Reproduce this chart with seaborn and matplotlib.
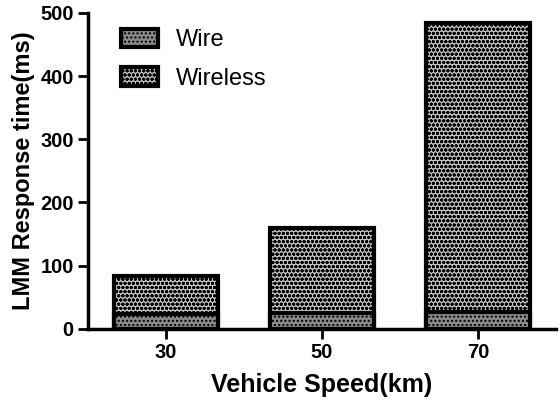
import matplotlib
matplotlib.use("Agg")
import matplotlib.pyplot as plt
import seaborn as sns
import pandas as pd
from matplotlib.patches import Patch

speeds = ["30", "50", "70"]
wire = [24, 25, 27]
wireless_top = [83, 160, 484]  # stacked total (wire + wireless)

sns.set_style("ticks")
plt.rcParams['font.family'] = ['Liberation Sans', 'DejaVu Sans']
plt.rcParams['hatch.linewidth'] = 1.0
plt.rcParams['text.color'] = 'black'
plt.rcParams['axes.labelcolor'] = 'black'
plt.rcParams['xtick.color'] = 'black'
plt.rcParams['ytick.color'] = 'black'

df = pd.DataFrame({"speed": speeds, "wire": wire, "total": wireless_top})

fig = plt.figure(figsize=(5.59, 4.04), dpi=100)
ax = fig.add_axes([0.157, 0.186, 0.838, 0.782])

sns.barplot(data=df, x="speed", y="total", ax=ax, color="#c4c4c4",
            width=0.67, edgecolor="black", linewidth=3, hatch="oooo")
sns.barplot(data=df, x="speed", y="wire", ax=ax, color="#8a8a8a",
            width=0.67, edgecolor="black", linewidth=3, hatch="....")

ax.set_xlim(-0.5, 2.5)
ax.set_ylim(0, 500)
ax.set_yticks([0, 100, 200, 300, 400, 500])
ax.set_xlabel("Vehicle Speed(km)", fontsize=18, fontweight="bold", labelpad=8)
ax.set_ylabel("LMM Response time(ms)", fontsize=17, fontweight="bold", labelpad=4)
for lab in ax.get_xticklabels() + ax.get_yticklabels():
    lab.set_fontweight("bold")
ax.tick_params(axis="both", labelsize=14.5, width=2, length=7, pad=3, color="black")
for s in ["top", "right"]:
    ax.spines[s].set_visible(False)
for s in ["left", "bottom"]:
    ax.spines[s].set_linewidth(2.5)
    ax.spines[s].set_color("black")

handles = [Patch(facecolor="#8a8a8a", edgecolor="black", linewidth=3, hatch="...."),
           Patch(facecolor="#c4c4c4", edgecolor="black", linewidth=3, hatch="oooo")]
ax.legend(handles, ["Wire", "Wireless"], loc="upper left", bbox_to_anchor=(0.07, 0.95),
          frameon=False, fontsize=17, handlelength=1.6, handleheight=0.8,
          labelspacing=0.7, handletextpad=0.75, borderpad=0, borderaxespad=0)

fig.savefig("out.png", dpi=100)
